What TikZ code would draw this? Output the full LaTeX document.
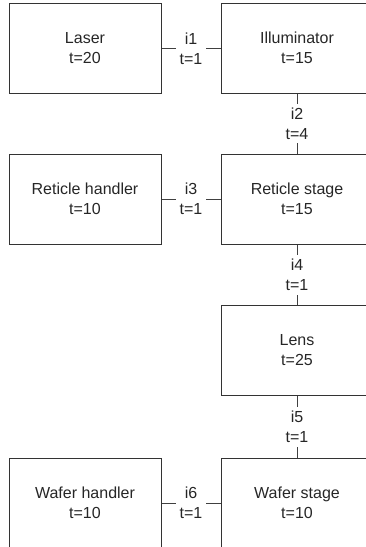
\documentclass[tikz,border=0pt]{standalone}
\usepackage{fontspec}
\setmainfont{Liberation Sans}
\begin{document}
\begin{tikzpicture}[x=1pt,y=-1pt,
  every node/.style={font=\fontsize{16}{20}\selectfont, text=black!85},
  blk/.style={draw=black!80, line width=1pt, minimum width=152pt, minimum height=90pt, align=center, inner sep=0pt},
  conn/.style={draw=black!75, line width=1pt},
  lbl/.style={fill=white, align=center, inner sep=4pt}]
\useasboundingbox (0,0) rectangle (366,547);
\begin{scope}
\clip (0,0) rectangle (366,547);
\node[blk] (laser) at (85,48.5) {Laser\\t=20};
\node[blk] (illum) at (297,48) {Illuminator\\t=15};
\node[blk] (rhand) at (85,199) {Reticle handler\\t=10};
\node[blk] (rstage) at (297,199) {Reticle stage\\t=15};
\node[blk] (lens) at (297,350.5) {Lens\\t=25};
\node[blk] (whand) at (85,503) {Wafer handler\\t=10};
\node[blk] (wstage) at (297,503) {Wafer stage\\t=10};
\draw[conn] (laser.east) -- node[lbl] {i1\\t=1} (laser.east -| illum.west);
\draw[conn] (illum.south) -- node[lbl] {i2\\t=4} (rstage.north);
\draw[conn] (rhand) -- node[lbl] {i3\\t=1} (rstage);
\draw[conn] (rstage.south) -- node[lbl] {i4\\t=1} (lens.north);
\draw[conn] (lens.south) -- node[lbl] {i5\\t=1} (wstage.north);
\draw[conn] (whand) -- node[lbl] {i6\\t=1} (wstage);
\end{scope}
\end{tikzpicture}
\end{document}
